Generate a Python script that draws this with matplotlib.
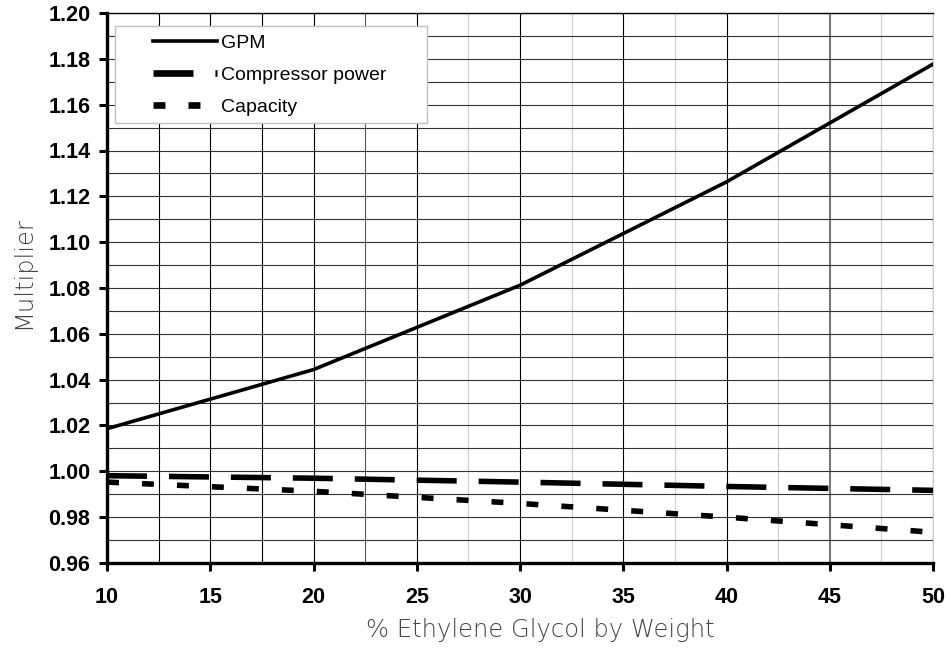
import matplotlib
matplotlib.use('Agg')
import matplotlib.pyplot as plt
from matplotlib.ticker import MultipleLocator, FormatStrFormatter
from matplotlib.patches import Rectangle
from matplotlib.lines import Line2D

# ---- data ----
glycol_pct = [10, 20, 30, 40, 50]
gpm = [1.0186, 1.0444, 1.0812, 1.1263, 1.1777]
compressor_power = [0.9981, 0.9970, 0.9953, 0.9934, 0.9917]
capacity = [0.9953, 0.9913, 0.9860, 0.9800, 0.9734]
series_labels = ["GPM", "Compressor power", "Capacity"]
x_label = "% Ethylene Glycol by Weight"
y_label = "Multiplier"

plt.rcParams['lines.scale_dashes'] = False

fig = plt.figure(figsize=(9.5, 6.48), dpi=100)
W, H = 950, 648
ax = fig.add_axes([107 / W, 1 - 563 / H, (933 - 107) / W, (563 - 13) / H])

ax.set_xlim(10, 50)
ax.set_ylim(0.96, 1.20)
ax.xaxis.set_major_locator(MultipleLocator(5))
ax.xaxis.set_minor_locator(MultipleLocator(2.5))
ax.yaxis.set_major_locator(MultipleLocator(0.02))
ax.yaxis.set_minor_locator(MultipleLocator(0.01))
ax.yaxis.set_major_formatter(FormatStrFormatter('%.2f'))
ax.xaxis.set_major_formatter(FormatStrFormatter('%d'))

ax.set_axisbelow(True)
ax.grid(True, axis='y', which='both', color='#333333', lw=0.8)
ax.grid(True, axis='x', which='both', color='black', lw=0.8)

fig.canvas.draw()
for loc, tick in zip(ax.xaxis.get_minorticklocs(), ax.xaxis.get_minor_ticks()):
    if loc < 20:
        c = 'black'
    elif loc < 25:
        c = '#555555'
    else:
        c = '#cccccc'
    tick.gridline.set_color(c)
for loc, tick in zip(ax.xaxis.get_majorticklocs(), ax.xaxis.get_major_ticks()):
    if abs(loc - 45) < 1e-6:
        tick.gridline.set_color('#777777')
        tick.gridline.set_linewidth(1.5)

ax.tick_params(axis='both', which='major', direction='out', length=6, width=2.2,
               color='black', labelsize=15.5)
ax.tick_params(axis='y', which='major', pad=6)
ax.tick_params(axis='x', which='major', pad=11)
ax.tick_params(axis='both', which='minor', length=0)
for lbl in ax.get_xticklabels() + ax.get_yticklabels():
    lbl.set_fontfamily('Liberation Sans')
    lbl.set_fontweight('bold')

for s in ['left', 'bottom']:
    ax.spines[s].set_linewidth(2.4)
ax.spines['top'].set_linewidth(1.0)
ax.spines['right'].set_linewidth(0.8)
ax.spines['right'].set_color('#cccccc')

l1, = ax.plot(glycol_pct, gpm, color='black', lw=2.6, zorder=3)
l2, = ax.plot(glycol_pct, compressor_power, color='black', lw=4.0,
              dashes=(28.8, 15.8), zorder=3)
l3, = ax.plot(glycol_pct, capacity, color='black', lw=4.0,
              dashes=(8.6, 16.6), zorder=3)

# legend box
rect = Rectangle((115 / W, 1 - 123 / H), 312 / W, 97 / H, transform=fig.transFigure,
                 facecolor='white', edgecolor='#c0c0c0', lw=1.0, zorder=4, clip_on=False)
ax.add_patch(rect)
h1 = Line2D([], [], color='black', lw=2.6)
h2 = Line2D([], [], color='black', lw=4.8, dashes=(28.8, 15.8))
h3 = Line2D([], [], color='black', lw=4.8, dashes=(8.6, 16.6))
leg = ax.legend([h1, h2, h3], series_labels, frameon=False, loc='upper left',
                bbox_to_anchor=(153 / W, 1 - 34 / H), bbox_transform=fig.transFigure,
                borderpad=0, borderaxespad=0, handlelength=3.3, handletextpad=0.2,
                labelspacing=0.74, prop={'family': 'Liberation Sans', 'size': 14})
leg.set_zorder(5)

ax.set_xlabel(x_label, fontfamily='DejaVu Sans', fontweight=200, fontsize=17.5,
              color='#444444', labelpad=6)
ax.xaxis.set_label_coords((540 - 107) / 826, -(630 - 563) / 550)
ax.xaxis.label.set_verticalalignment('center')
ax.set_ylabel(y_label, fontfamily='DejaVu Sans', fontweight=200, fontsize=17.5,
              color='#444444', labelpad=10)
ax.yaxis.set_label_coords(-(107 - 23) / 826, (563 - 273) / 550)
ax.yaxis.label.set_verticalalignment('center')

fig.savefig('out.png', dpi=100)
